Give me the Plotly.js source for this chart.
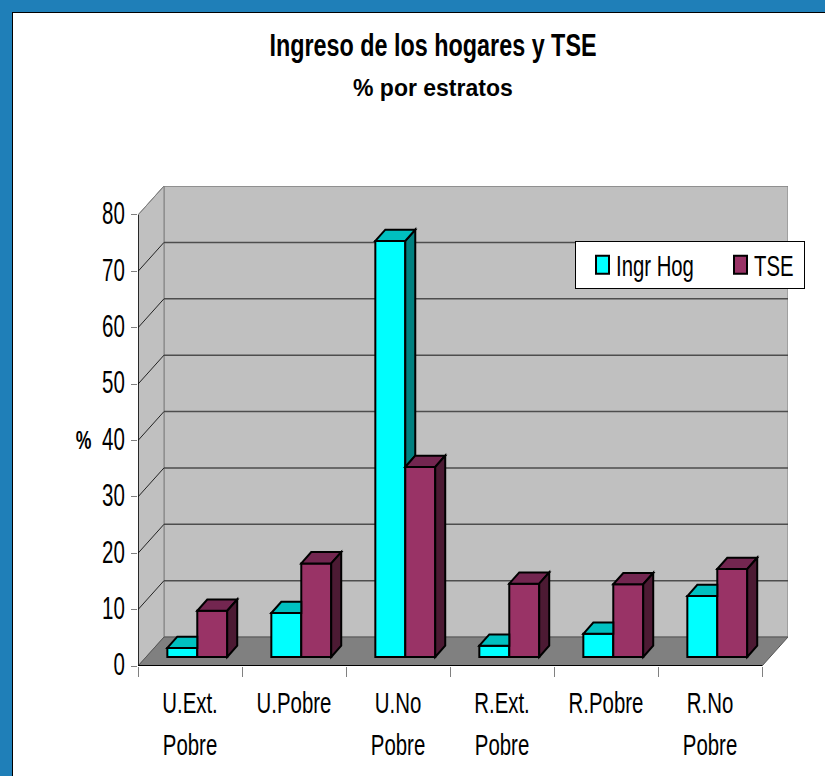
<!DOCTYPE html>
<html>
<head>
<meta charset="utf-8">
<script src="https://cdn.plot.ly/plotly-3.0.1.min.js"></script>
<style>
html,body{margin:0;padding:0;background:#1f7fb8;width:825px;height:776px;overflow:hidden}
#chart{position:absolute;left:12px;top:12px;border-left:1px solid #000;border-top:1px solid #000;box-sizing:content-box;background:#fff}
</style>
</head>
<body>
<div id="chart" style="width:812px;height:763px"></div>
<script>
var labelLine1 = ["U.Ext.", "U.Pobre", "U.No", "R.Ext.", "R.Pobre", "R.No"];
var labelLine2 = ["Pobre", "", "Pobre", "Pobre", "", "Pobre"];
var ingrHog = [1.6, 7.8, 73.8, 2.0, 4.1, 10.8];
var tse = [8.2, 16.6, 33.7, 13.0, 12.9, 15.6];
var yTicks = [0, 10, 20, 30, 40, 50, 60, 70, 80];
var boundaries = [-0.5, 0.5, 1.5, 2.5, 3.5, 4.5, 5.5];

var SANS = '"Liberation Sans",Arial,sans-serif';
var DX = 0.25, DY = 5.14;          // depth of the floor in axis units
var BASE = 1.6, SHIFT = 0.07;      // where the bars stand on the floor
var W = 0.288, BDX = 0.096, BDY = 2.0; // bar width and bar depth
var XL = -0.5, XR = 5.5, YT = 80;

function poly(pts, fill, lineColor, lineWidth, layer) {
  return {type:'path', xref:'x', yref:'y', layer:layer||'above',
    path:'M'+pts.map(function(p){return p[0]+','+p[1];}).join('L')+'Z',
    fillcolor:fill, line:{color:lineColor, width:lineWidth===undefined?2:lineWidth}};
}
function seg(x0,y0,x1,y1,color,width) {
  return {type:'line', xref:'x', yref:'y', layer:'below', x0:x0,y0:y0,x1:x1,y1:y1, line:{color:color,width:width}};
}

var shapes = [];
shapes.push(poly([[XL+DX,DY],[XR+DX,DY],[XR+DX,YT+DY],[XL+DX,YT+DY]], '#c0c0c0', '#808080', 1, 'below'));
shapes.push(poly([[XL,0],[XL+DX,DY],[XL+DX,YT+DY],[XL,YT]], '#c0c0c0', '#808080', 1, 'below'));
shapes.push(poly([[XL,0],[XR,0],[XR+DX,DY],[XL+DX,DY]], '#808080', '#555555', 1, 'below'));
yTicks.forEach(function(v){
  if (v > 0) {
    shapes.push(seg(XL+DX,v+DY,XR+DX,v+DY, v===80?'#808080':'#4d4d4d', v===80?1:1.5));
    if (v < 80) shapes.push(seg(XL,v,XL+DX,v+DY,'#222222',1));
  }
});
shapes.push(seg(XL,YT,XL+DX,YT+DY,'#808080',1));
shapes.push(seg(XL,0,XL,YT,'#000000',1.5));
shapes.push(seg(XL,0,XR,0,'#000000',2));

labelLine1.forEach(function(_, i){
  var c = ingrHog[i]+BASE, m = tse[i]+BASE;
  var xl = i+SHIFT-W, xc = i+SHIFT, xr = i+SHIFT+W;
  if (c > m) {
    shapes.push(poly([[xc,c],[xc+BDX,c+BDY],[xc+BDX,m+BDY],[xc,m]], '#008080', '#000'));
    shapes.push(poly([[xl,c],[xl+BDX,c+BDY],[xc+BDX,c+BDY],[xc,c]], '#00c0c0', '#000'));
  } else {
    shapes.push(poly([[xl,c],[xl+BDX,c+BDY],[xc,c+BDY],[xc,c]], '#00c0c0', '#000'));
  }
  shapes.push(poly([[xc,m],[xc+BDX,m+BDY],[xr+BDX,m+BDY],[xr,m]], '#732650', '#000'));
  shapes.push(poly([[xr,BASE],[xr+BDX,BASE+BDY],[xr+BDX,m+BDY],[xr,m]], '#4c1a33', '#000'));
});

var annotations = [
  {xref:'paper', yref:'paper', x:(433-138)/650, y:(666-87)/480.5, text:'<b>% por estratos</b>', showarrow:false,
   font:{family:SANS,size:23,color:'#000'}, xanchor:'center', yanchor:'middle'},
  {xref:'paper', yref:'paper', x:(83-138)/650, y:(666-440)/480.5, text:'<b>%</b>', showarrow:false,
   font:{family:SANS,size:26,color:'#000'}, xanchor:'center', yanchor:'middle'}
];
labelLine2.forEach(function(t,i){
  if (t) annotations.push({xref:'x', yref:'paper', x:i, y:(666-745)/480.5, text:t, showarrow:false,
    font:{family:SANS,size:30,color:'#000'}, xanchor:'center', yanchor:'middle'});
});

var xs = labelLine1.map(function(_,i){return i;});
var traces = [
  {type:'bar', name:'Ingr Hog', x:xs, y:ingrHog, base:BASE, width:W, offset:SHIFT-W,
   marker:{color:'#00ffff', line:{color:'#000',width:2}}},
  {type:'bar', name:'TSE', x:xs, y:tse, base:BASE, width:W, offset:SHIFT,
   marker:{color:'#993366', line:{color:'#000',width:2}}}
];

var layout = {
  width:812, height:763,
  margin:{l:125, r:37, t:172.5, b:110, autoexpand:false},
  paper_bgcolor:'#ffffff', plot_bgcolor:'rgba(0,0,0,0)',
  barmode:'overlay',
  font:{family:SANS,size:30,color:'#000'},
  title:{text:'<b>Ingreso de los hogares y TSE</b>', x:(433-13)/812, xanchor:'center', y:1-(45-13)/763, yanchor:'middle',
         font:{family:SANS,size:32,color:'#000'}},
  xaxis:{range:[XL,XR+DX], tickmode:'array', tickvals:xs, ticktext:labelLine1, ticks:'', showgrid:false, zeroline:false, showline:false,
         ticklabelstandoff:16, tickfont:{family:SANS,size:30,color:'#000'},
         minor:{tickmode:'array', tickvals:boundaries, ticks:'outside', ticklen:10, tickwidth:1, tickcolor:'#808080', showgrid:false}},
  yaxis:{range:[0,YT+DY], tickmode:'array', tickvals:yTicks, ticktext:yTicks.map(String), ticks:'outside', ticklen:6, tickwidth:1, tickcolor:'#808080',
         showgrid:false, zeroline:false, showline:false, tickfont:{family:SANS,size:31,color:'#000'}},
  legend:{orientation:'h', xref:'paper', yref:'paper', x:(575-138)/650, xanchor:'left', y:(666-238)/480.5, yanchor:'top',
          bgcolor:'#ffffff', bordercolor:'#000', borderwidth:1, font:{family:SANS,size:29,color:'#000'},
          entrywidth:93, entrywidthmode:'pixels',
          traceorder:'normal', itemclick:false, itemdoubleclick:false},
  shapes:shapes,
  annotations:annotations,
  showlegend:true
};

// The reference uses a condensed face; none is installed, so the real text is
// narrowed with SVG's own textLength.
function narrow(selector, ratio) {
  document.querySelectorAll('#chart ' + selector).forEach(function(el){
    var w = el.getComputedTextLength();
    if (w > 0) {
      el.setAttribute('textLength', (w*ratio).toFixed(1));
      el.setAttribute('lengthAdjust', 'spacingAndGlyphs');
    }
  });
}
Plotly.newPlot('chart', traces, layout, {displayModeBar:false, responsive:false}).then(function(){
  narrow('.gtitle', 0.73);
  narrow('.xtick text', 0.68);
  narrow('.ytick text', 0.66);
  narrow('.legendtext', 0.70);
  narrow('.annotation-text', 0.68);
  document.querySelectorAll('#chart .annotation-text').forEach(function(el){
    if (el.textContent === '% por estratos') { el.removeAttribute('textLength'); el.removeAttribute('lengthAdjust'); }
  });
  document.querySelectorAll('#chart .ytick text').forEach(function(el){
    el.setAttribute('y', parseFloat(el.getAttribute('y')) - 1.5);
    var t = el.getAttribute('transform');
    if (t) el.setAttribute('transform', t);
  });
  document.querySelectorAll('#chart .legendpoints path').forEach(function(p){
    p.setAttribute('d', 'M13,9H0V-9H13Z');
  });
  // legend box as in the reference
  var bg = document.querySelector('#chart .legend rect.bg');
  if (bg) {
    bg.setAttribute('y', 3);
    bg.setAttribute('width', 229);
    bg.setAttribute('height', 47);
  }
});
</script>
</body>
</html>
